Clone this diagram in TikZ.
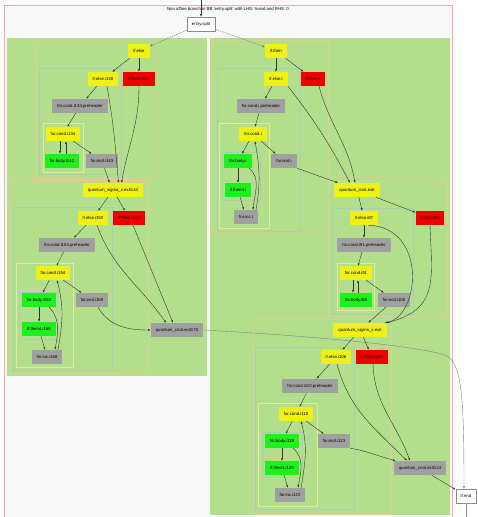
\documentclass[tikz,border=0pt]{standalone}
\usepackage{fontspec}
\setmainfont{Liberation Sans}
\usetikzlibrary{arrows.meta}
\definecolor{clgreen}{RGB}{179,222,140}
\definecolor{cltan}{RGB}{222,206,150}
\definecolor{clblue}{RGB}{168,206,182}
\definecolor{clloop}{RGB}{222,238,150}
\definecolor{bbyellow}{RGB}{240,240,25}
\definecolor{bbred}{RGB}{240,0,0}
\definecolor{bbgreen}{RGB}{30,240,30}
\definecolor{bbgray}{RGB}{160,160,160}
\definecolor{pagebg}{RGB}{248,248,248}
\definecolor{framered}{RGB}{240,170,170}
\begin{document}
\begin{tikzpicture}[x=1pt,y=1pt,
  bb/.style={rectangle, inner xsep=5pt, inner ysep=0pt, minimum height=14pt,
    font=\fontsize{4.3}{5}\selectfont},
  ybb/.style={bb, fill=bbyellow},
  rbb/.style={bb, fill=bbred},
  gbb/.style={bb, fill=bbgreen},
  sbb/.style={bb, fill=bbgray},
  wbb/.style={bb, fill=white, draw=black!45, line width=.4pt},
  cl/.style={draw=#1, line width=.45pt},
  edge/.style={draw=black!80, line width=.4pt, -{Latex[length=2.6pt,width=2pt]}},
  dedge/.style={edge, draw=black!55, dash pattern=on 1.5pt off 1pt},
  ledge/.style={edge, draw=black!50}]
\useasboundingbox (0,0) rectangle (477,517);
\fill[white] (0,0) rectangle (477,517);
\fill[pagebg] (4,-2) rectangle (452,512);
\draw[framered, line width=.5pt] (4,-2) -- (4,512) -- (452,512) -- (452,-2);

% clusters
\fill[clgreen] (7,141) rectangle (207,479);
\fill[clgreen] (210,2) rectangle (450,479);
\draw[cl=cltan] (36,339) rectangle (157,476);
\draw[cl=clblue] (39,343) rectangle (121,449);
\draw[cl=clloop] (43,345) rectangle (83,394);
\draw[cl=cltan] (10,144) rectangle (148,337);
\draw[cl=clblue] (13,147) rectangle (112,310);
\draw[cl=clloop] (16,150) rectangle (73,254);
\draw[cl=clblue] (19,178) rectangle (57,225);
\draw[cl=cltan] (211,284) rectangle (328,477);
\draw[cl=clblue] (217,286) rectangle (300,449);
\draw[cl=clloop] (219,289) rectangle (269,394);
\draw[cl=clblue] (222,317) rectangle (260,365);
\draw[cl=cltan] (328,201) rectangle (447,336);
\draw[cl=clblue] (332,203) rectangle (413,309);
\draw[cl=clloop] (337,207) rectangle (374,254);
\draw[cl=cltan] (253,5) rectangle (391,198);
\draw[cl=clblue] (255,8) rectangle (354,170);
\draw[cl=clloop] (258,11) rectangle (317,114);
\draw[cl=clblue] (263,40) rectangle (302,85);

\node[font=\fontsize{4.3}{5}\selectfont] (title) at (228,508)
  {Non affine branch in BB 'entry.split' with LHS: \%and and RHS: 0};
\node[wbb] (esplit) at (201,493) {entry.split};
\node[wbb] (ifend) at (466,21) {if.end};
\coordinate (src) at (201,517);
\coordinate (sink) at (466,0);

% left branch
\node[ybb] (ifelse) at (139,466) {if.else};
\node[rbb] (ifthen127) at (139,438) {if.then.i127};
\node[ybb] (ifelse130) at (103,438) {if.else.i130};
\node[sbb] (pre134) at (80,411) {for.cond.i134.preheader};
\node[ybb] (cond134) at (63,383) {for.cond.i134};
\node[gbb] (body142) at (62,356) {for.body.i142};
\node[sbb] (end143) at (102,356) {for.end.i143};
\node[ybb] (sigx144) at (113,327) {quantum\_sigma\_x.exit144};
\node[ybb] (ifelse150) at (93,299) {if.else.i150};
\node[rbb] (ifthen147) at (129,299) {if.then.i147};
\node[sbb] (pre154) at (67,272) {for.cond.i154.preheader};
\node[ybb] (cond154) at (53,244) {for.cond.i154};
\node[gbb] (body162) at (39,217) {for.body.i162};
\node[sbb] (end169) at (92,217) {for.end.i169};
\node[gbb] (then166) at (39,188) {if.then4.i166};
\node[sbb] (inc168) at (47,160) {for.inc.i168};
\node[sbb] (cnot170) at (177,187) {quantum\_cnot.exit170};

% right branch
\node[ybb] (ifthen) at (276,466) {if.then};
\node[rbb] (ifthenI) at (313,438) {if.then.i};
\node[ybb] (ifelseI) at (276,438) {if.else.i};
\node[sbb] (preI) at (261,411) {for.cond.i.preheader};
\node[ybb] (condI) at (253,383) {for.cond.i};
\node[gbb] (bodyI) at (238,356) {for.body.i};
\node[sbb] (endI) at (284,356) {for.end.i};
\node[gbb] (thenI4) at (238,327) {if.then4.i};
\node[sbb] (incI) at (246,300) {for.inc.i};
\node[ybb] (cnot) at (357,327) {quantum\_cnot.exit};
\node[ybb] (ifelse87) at (364,299) {if.else.i87};
\node[rbb] (ifthen84) at (430,299) {if.then.i84};
\node[sbb] (pre91) at (364,272) {for.cond.i91.preheader};
\node[ybb] (cond91) at (356,244) {for.cond.i91};
\node[gbb] (body88) at (356,217) {for.body.i88};
\node[sbb] (end100) at (394,217) {for.end.i100};
\node[ybb] (sigx) at (360,187) {quantum\_sigma\_x.exit};
\node[ybb] (ifelse106) at (336,160) {if.else.i106};
\node[rbb] (ifthen103) at (372,160) {if.then.i103};
\node[sbb] (pre110) at (310,131) {for.cond.i110.preheader};
\node[ybb] (cond110) at (296,103) {for.cond.i110};
\node[gbb] (body118) at (282,76) {for.body.i118};
\node[sbb] (end123) at (334,76) {for.end.i123};
\node[gbb] (then120) at (282,49) {if.then4.i120};
\node[sbb] (inc122) at (290,22) {for.inc.i122};
\node[sbb] (cnot124) at (420,49) {quantum\_cnot.exit124};

% edges
\draw[edge] (src) -- (esplit);
\draw[dedge] (esplit) -- (ifelse);
\draw[dedge] (esplit) -- (ifthen);
\draw[edge] (ifelse) -- (ifelse130);
\draw[edge] (ifelse) -- (ifthen127);
\draw[edge] (ifelse130) -- (pre134);
\draw[edge] ([xshift=4pt]ifelse130.south) to[out=-80,in=95] ([xshift=5.5pt]sigx144.north);
\draw[edge] (ifthen127.south) to[out=-90,in=80] ([xshift=8.5pt]sigx144.north);
\draw[edge] (pre134) -- (cond134);
\draw[edge] ([xshift=-3pt]cond134.south) -- ([xshift=-2pt]body142.north);
\draw[edge] ([xshift=4pt]body142.north) -- ([xshift=3pt]cond134.south);
\draw[edge] (cond134) -- (end143);
\draw[edge] (end143) -- ([xshift=-3.5pt]sigx144.north);
\draw[edge] (sigx144) -- (ifelse150);
\draw[edge] (sigx144) -- (ifthen147);
\draw[edge] (ifelse150) -- (pre154);
\draw[edge] ([xshift=4pt]ifelse150.south) to[out=-70,in=125] ([xshift=-11pt]cnot170.north);
\draw[edge] ([xshift=4pt]ifthen147.south) -- ([xshift=-4pt]cnot170.north);
\draw[edge] (pre154) -- (cond154);
\draw[edge] (cond154) -- (body162);
\draw[edge] (cond154) -- (end169);
\draw[edge] (body162) -- (then166);
\draw[edge] ([xshift=10pt]body162.south) to[out=-45,in=80] ([xshift=8pt]inc168.north);
\draw[edge] (then166) -- (inc168);
\draw[edge] ([xshift=11pt]inc168.north) to[out=80,in=-75] ([xshift=4pt]cond154.south);
\draw[edge] ([xshift=6pt]end169.south) to[out=-60,in=180] (cnot170.west);
\draw[ledge] (cnot170.east) .. controls (330,180) and (420,170) .. (445,162)
  .. controls (462,155) and (464,120) .. ([xshift=-2pt]ifend.north);

\draw[edge] (ifthen) -- (ifelseI);
\draw[edge] (ifthen) -- (ifthenI);
\draw[edge] (ifelseI) -- (preI);
\draw[edge] (ifelseI.south east) to[out=-52,in=118] ([xshift=-7pt]cnot.north);
\draw[edge] ([xshift=6pt]ifthenI.south) to[out=-75,in=100] ([xshift=-2pt]cnot.north);
\draw[edge] (preI) -- (condI);
\draw[edge] (condI) -- (bodyI);
\draw[edge] (condI) -- (endI);
\draw[edge] (bodyI) -- (thenI4);
\draw[edge] ([xshift=11pt]bodyI.south) to[out=-40,in=85] ([xshift=7pt]incI.north);
\draw[edge] (thenI4) -- (incI);
\draw[edge] ([xshift=10pt]incI.north) to[out=80,in=-80] ([xshift=2pt]condI.south);
\draw[edge] (endI.south east) -- ([xshift=-19pt]cnot.north);
\draw[edge] (cnot) -- (ifelse87);
\draw[edge] (cnot) -- (ifthen84);
\draw[edge] (ifelse87) -- (pre91);
\draw[edge] ([xshift=4pt]ifelse87.south) .. controls (428,290) and (420,200) .. ([xshift=-2pt]sigx.north east);
\draw[edge] (ifthen84.south) to[out=-88,in=15,looseness=1.3] (sigx.north east);
\draw[edge] (pre91) -- (cond91);
\draw[edge] ([xshift=-3pt]cond91.south) -- ([xshift=-3pt]body88.north);
\draw[edge] ([xshift=2pt]body88.north) -- ([xshift=2pt]cond91.south);
\draw[edge] (cond91) -- (end100);
\draw[edge] (end100) -- (sigx);
\draw[edge] (sigx) -- (ifelse106);
\draw[edge] (sigx) -- (ifthen103);
\draw[edge] (ifelse106) -- (pre110);
\draw[edge] ([xshift=1pt]ifelse106.south) to[out=-75,in=135] ([xshift=-13pt]cnot124.north);
\draw[edge] ([xshift=1pt]ifthen103.south) to[out=-88,in=110] ([xshift=-10pt]cnot124.north);
\draw[edge] (pre110) -- (cond110);
\draw[edge] (cond110) -- (body118);
\draw[edge] (cond110) -- (end123);
\draw[edge] (body118) -- (then120);
\draw[edge] ([xshift=11pt]body118.south) to[out=-40,in=80] ([xshift=8pt]inc122.north);
\draw[edge] (then120) -- (inc122);
\draw[edge] ([xshift=11pt]inc122.north) to[out=80,in=-75] ([xshift=5pt]cond110.south);
\draw[edge] (end123.south east) to[out=-10,in=165] ([xshift=2pt]cnot124.north west);
\draw[edge] (cnot124) -- (ifend);
\draw[draw=black!45, line width=.4pt] (ifend) -- (sink);
\end{tikzpicture}
\end{document}
